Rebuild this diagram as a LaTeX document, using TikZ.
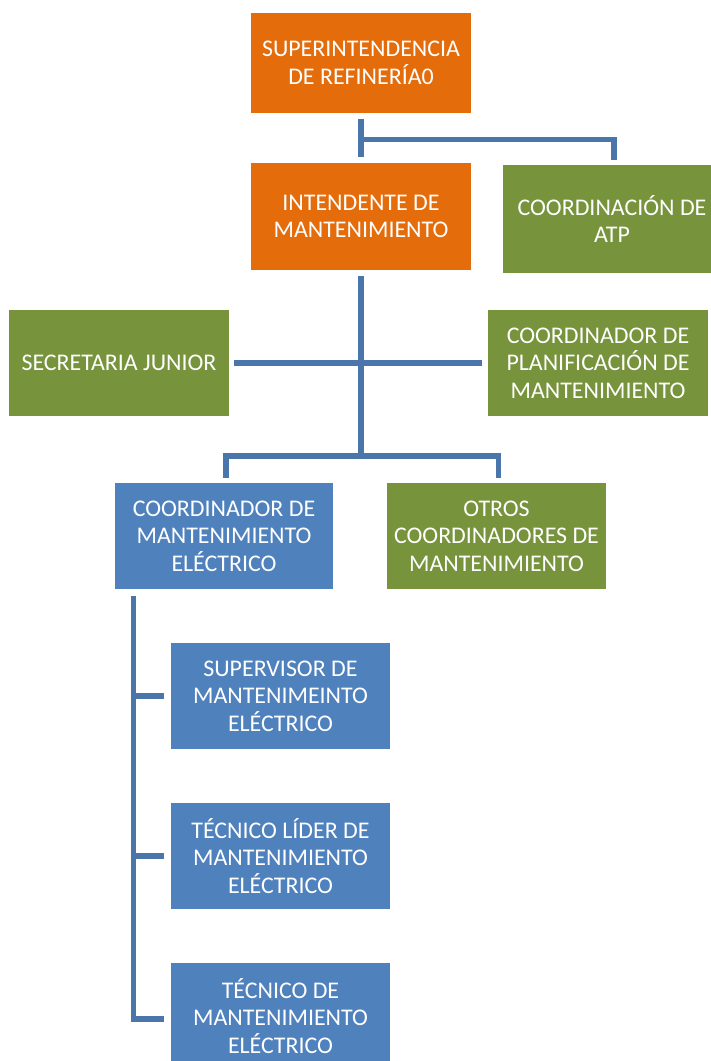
\documentclass[tikz,border=0pt]{standalone}
\usepackage{fontspec}
\setmainfont{Carlito}
\usetikzlibrary{calc}
\definecolor{naranja}{HTML}{E46C0A}
\definecolor{verde}{HTML}{77933C}
\definecolor{azul}{HTML}{4F81BD}
\definecolor{lineaazul}{HTML}{4A76AC}
\begin{document}
\begin{tikzpicture}[x=0.025cm,y=-0.025cm,
  caja/.style={fill=#1, text=white, align=center, inner sep=0pt,
    minimum width=5.5cm, minimum height=2.65cm,
    font=\fontsize{17}{19.6}\selectfont},
  linea/.style={draw=lineaazul, line width=3.6pt}]
\clip (0,0) rectangle (711,1061);
% jefaturas
\node[caja=naranja, minimum height=2.5cm] (sup) at (361,63) {SUPERINTENDENCIA\\DE REFINERÍA0};
\node[caja=naranja, minimum height=2.68cm] (inten) at (361,216.5) {INTENDENTE DE\\MANTENIMIENTO};
\node[caja=verde, minimum width=5.45cm, minimum height=2.7cm] (atp) at (612,219) {COORDINACIÓN DE\\ATP};
\node[caja=verde] (sec) at (119,363) {SECRETARIA JUNIOR};
\node[caja=verde] (plan) at (598,363) {COORDINADOR DE\\PLANIFICACIÓN DE\\MANTENIMIENTO};
% coordinadores
\node[caja=azul, minimum width=5.45cm] (coordel) at (224,536) {COORDINADOR DE\\MANTENIMIENTO\\ELÉCTRICO};
\node[caja=verde, minimum width=5.475cm] (otros) at (496.5,536) {OTROS\\COORDINADORES DE\\MANTENIMIENTO};
% personal electrico
\node[caja=azul, minimum width=5.475cm] (superv) at (280.5,696) {SUPERVISOR DE\\MANTENIMEINTO\\ELÉCTRICO};
\node[caja=azul, minimum width=5.475cm] (lider) at (280.5,856) {TÉCNICO LÍDER DE\\MANTENIMIENTO\\ELÉCTRICO};
\node[caja=azul, minimum width=5.475cm] (tec) at (280.5,1016) {TÉCNICO DE\\MANTENIMIENTO\\ELÉCTRICO};
% conectores
\draw[linea, shorten <=4.3pt, shorten >=4.3pt] (sup) -- (inten);
\coordinate (t1) at ($(sup.south)!0.54!(inten.north)$);
\draw[linea, shorten >=3.6pt] (t1) -| ([xshift=0.05cm]atp.north);
\coordinate (b1) at (361,456);
\draw[linea, shorten <=4.3pt] (inten) -- (b1);
\draw[linea, shorten <=3.6pt, shorten >=4.3pt] (sec) -- (plan);
\draw[linea, shorten <=3.6pt, shorten >=3.6pt] ([xshift=0.05cm]coordel.north) |- (b1) -| ([xshift=0.05cm]otros.north);
\coordinate (b2) at ([xshift=0.475cm]coordel.south west);
\draw[linea, shorten <=5pt, shorten >=5pt] (b2) |- ([yshift=-0.075cm]tec.west);
\draw[linea, shorten >=5pt] (b2 |- superv.west) -- (superv.west);
\draw[linea, shorten >=5pt] (b2 |- lider.west) -- (lider.west);
\end{tikzpicture}
\end{document}
